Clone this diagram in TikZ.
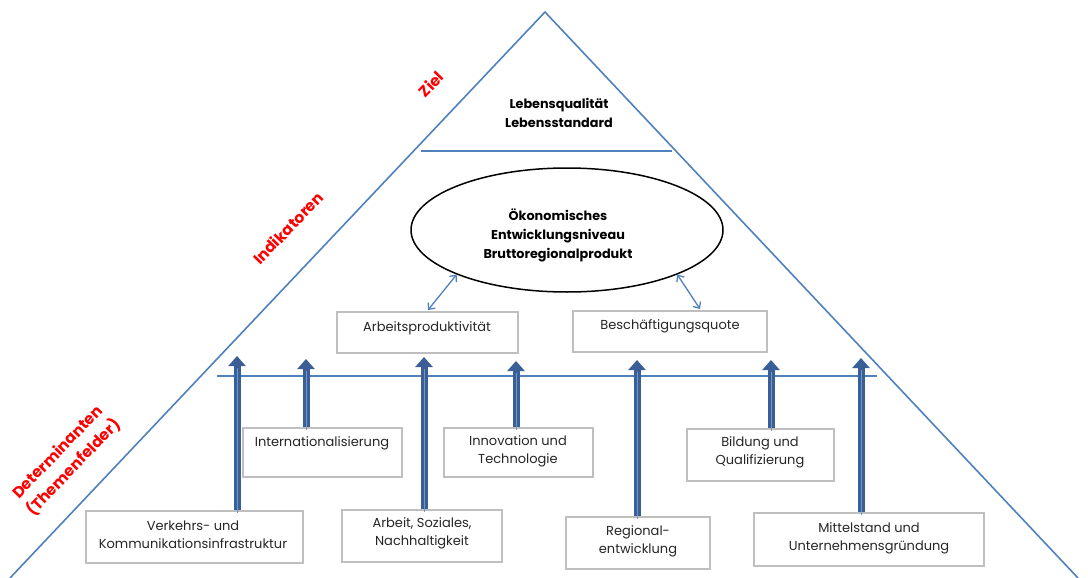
\documentclass[tikz,border=0pt]{standalone}
\usepackage{fontspec}
\setmainfont{Poppins}
\usetikzlibrary{arrows.meta,shapes.geometric}
\definecolor{lineblue}{HTML}{4F81BD}
\definecolor{arrowblue}{HTML}{3A5F96}
\definecolor{arrowlight}{HTML}{7396C8}
\definecolor{boxgray}{HTML}{BFBFBF}
\definecolor{labelred}{HTML}{FF0000}
\begin{document}
\begin{tikzpicture}[x=1pt,y=-1pt,
 edge/.style={lineblue, line width=1.6pt},
 box/.style={draw=boxgray, line width=1.8pt, fill=white, inner sep=0pt},
 btext/.style={font=\fontsize{13}{18}\selectfont, align=center, inner sep=0pt, text=black!85},
 boldtext/.style={font=\fontsize{12.8}{19}\selectfont\bfseries, align=center, inner sep=0pt},
 redlabel/.style={font=\fontsize{15.5}{22}\selectfont\bfseries, text=labelred, rotate=46, align=center, inner sep=0pt},
 bigarrow/.style={arrowblue, line width=7pt, -{Triangle[width=17pt,length=10pt]}},
 midline/.style={arrowlight, line width=0.8pt},
 dbl/.style={lineblue, line width=1.3pt, {Straight Barb[length=5pt,width=9pt]}-{Straight Barb[length=5pt,width=9pt]}}
]
\useasboundingbox (0,0) rectangle (1088,578);
% pyramid
\coordinate (apex) at (545,12);
\coordinate (bl) at (10,578);
\coordinate (br) at (1078,578);
\draw[edge] (bl) -- (apex) -- (br);
\coordinate (t1) at (421,151);
\coordinate (t2) at (672,151);
\draw[edge] (t1) -- (t2);
\coordinate (h1) at (217,376);
\coordinate (h2) at (877,376);
\draw[edge] (h1) -- (h2);

% labels
\node[redlabel] (ziel) at (431,84) {Ziel};
\node[redlabel] (indik) at (288,228) {Indikatoren};
\node[redlabel] (determ) at (66,460) {Determinanten\\(Themenfelder)};

% top
\node[boldtext] (ziele) at (559,112.5) {Lebensqualität\\Lebensstandard};

% ellipse
\node[ellipse, draw=black, line width=1.5pt, minimum width=312pt, minimum height=124pt, inner sep=0pt] (ell) at (567,230) {};
\node[boldtext] (ellT) at (558,235) {Ökonomisches\\Entwicklungsniveau\\Bruttoregionalprodukt};

% indicator boxes
\node[box, minimum width=181pt, minimum height=41pt] (arbP) at (427.5,332.5) {};
\node[btext] (arbPT) at (427,328) {Arbeitsproduktivität};
\node[box, minimum width=194pt, minimum height=41pt] (besch) at (670,331.5) {};
\node[btext] (beschT) at (670,326) {Beschäftigungsquote};

\coordinate (d1) at (428,310);
\coordinate (d2) at (700,309);
\draw[dbl] (ell.202.5) -- (d1);
\draw[dbl] (ell.-22) -- (d2);

% determinant boxes
\node[box, minimum width=217pt, minimum height=52pt] (verk) at (194.5,537) {};
\node[btext] (verkT) at (193,534.5) {Verkehrs- und\\Kommunikationsinfrastruktur};
\node[box, minimum width=159pt, minimum height=49pt] (intl) at (322.5,452.5) {};
\node[btext] (intlT) at (322,443) {Internationalisierung};
\node[box, minimum width=160pt, minimum height=52pt] (arbS) at (422,536) {};
\node[btext] (arbST) at (422,533) {Arbeit, Soziales,\\Nachhaltigkeit};
\node[box, minimum width=149pt, minimum height=49pt] (innov) at (518.5,452.5) {};
\node[btext] (innovT) at (518,451) {Innovation und\\Technologie};
\node[box, minimum width=144pt, minimum height=52pt] (regio) at (638,543) {};
\node[btext] (regioT) at (638,541) {Regional-\\entwicklung};
\node[box, minimum width=147pt, minimum height=52pt] (bild) at (760.5,455) {};
\node[btext] (bildT) at (760,452.5) {Bildung und\\Qualifizierung};
\node[box, minimum width=230pt, minimum height=53pt] (mittel) at (869,539.5) {};
\node[btext] (mittelT) at (869,538) {Mittelstand und\\Unternehmensgründung};

% big arrows
\coordinate (a1) at (237,356);
\coordinate (a2) at (306,359);
\coordinate (a3) at (424,357);
\coordinate (a4) at (516,361);
\coordinate (a5) at (637,360);
\coordinate (a6) at (771,360);
\coordinate (a7) at (861,358);
\foreach \b/\a in {verk/a1, intl/a2, arbS/a3, innov/a4, regio/a5, bild/a6, mittel/a7}{
  \draw[bigarrow] (\b.north -| \a) -- (\a);
  \draw[midline] ([yshift=-3pt]\b.north -| \a) -- ([yshift=-12pt]\a);
}
\end{tikzpicture}
\end{document}
